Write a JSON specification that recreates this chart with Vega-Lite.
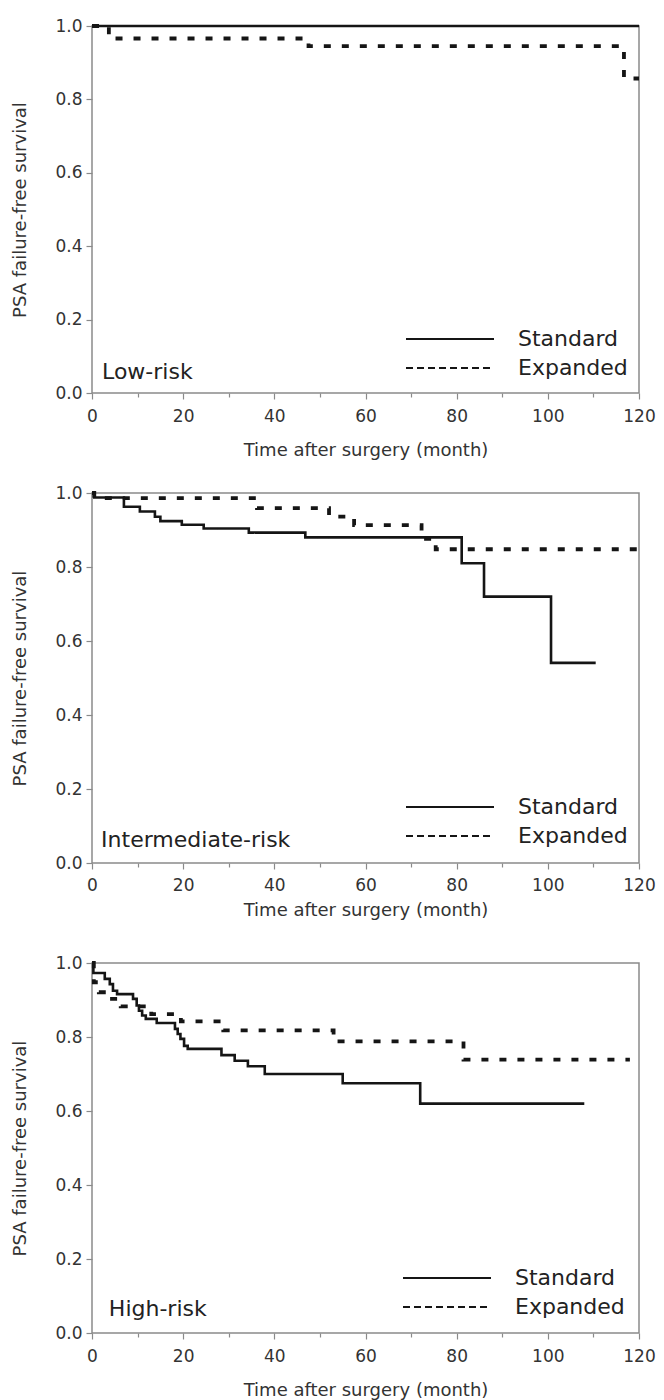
{
  "$schema": "https://vega.github.io/schema/vega-lite/v6.json",
  "padding": {"left": 11, "top": 16, "right": 0, "bottom": 0},
  "background": "white",
  "datasets": {
    "km": [
      {"panel": "Low-risk", "group": "Standard", "time": 0, "surv": 1},
      {"panel": "Low-risk", "group": "Standard", "time": 120, "surv": 1},
      {"panel": "Low-risk", "group": "Expanded", "time": 0, "surv": 1},
      {"panel": "Low-risk", "group": "Expanded", "time": 3.7, "surv": 0.966},
      {"panel": "Low-risk", "group": "Expanded", "time": 47.5, "surv": 0.945},
      {"panel": "Low-risk", "group": "Expanded", "time": 116.7, "surv": 0.857},
      {"panel": "Low-risk", "group": "Expanded", "time": 120, "surv": 0.857},

      {"panel": "Intermediate-risk", "group": "Standard", "time": 0, "surv": 1},
      {"panel": "Intermediate-risk", "group": "Standard", "time": 0.5, "surv": 0.988},
      {"panel": "Intermediate-risk", "group": "Standard", "time": 7, "surv": 0.963},
      {"panel": "Intermediate-risk", "group": "Standard", "time": 10.5, "surv": 0.95},
      {"panel": "Intermediate-risk", "group": "Standard", "time": 13.8, "surv": 0.936},
      {"panel": "Intermediate-risk", "group": "Standard", "time": 15, "surv": 0.924},
      {"panel": "Intermediate-risk", "group": "Standard", "time": 19.7, "surv": 0.914},
      {"panel": "Intermediate-risk", "group": "Standard", "time": 24.5, "surv": 0.904},
      {"panel": "Intermediate-risk", "group": "Standard", "time": 34.4, "surv": 0.893},
      {"panel": "Intermediate-risk", "group": "Standard", "time": 46.8, "surv": 0.88},
      {"panel": "Intermediate-risk", "group": "Standard", "time": 81.1, "surv": 0.81},
      {"panel": "Intermediate-risk", "group": "Standard", "time": 86, "surv": 0.72},
      {"panel": "Intermediate-risk", "group": "Standard", "time": 100.7, "surv": 0.541},
      {"panel": "Intermediate-risk", "group": "Standard", "time": 110.5, "surv": 0.541},
      {"panel": "Intermediate-risk", "group": "Expanded", "time": 0, "surv": 1},
      {"panel": "Intermediate-risk", "group": "Expanded", "time": 0.5, "surv": 0.986},
      {"panel": "Intermediate-risk", "group": "Expanded", "time": 36.2, "surv": 0.959},
      {"panel": "Intermediate-risk", "group": "Expanded", "time": 52, "surv": 0.936},
      {"panel": "Intermediate-risk", "group": "Expanded", "time": 57.5, "surv": 0.913},
      {"panel": "Intermediate-risk", "group": "Expanded", "time": 72.3, "surv": 0.876},
      {"panel": "Intermediate-risk", "group": "Expanded", "time": 75.4, "surv": 0.848},
      {"panel": "Intermediate-risk", "group": "Expanded", "time": 120, "surv": 0.848},

      {"panel": "High-risk", "group": "Standard", "time": 0, "surv": 1},
      {"panel": "High-risk", "group": "Standard", "time": 0.3, "surv": 0.973},
      {"panel": "High-risk", "group": "Standard", "time": 2.8, "surv": 0.957},
      {"panel": "High-risk", "group": "Standard", "time": 3.9, "surv": 0.943},
      {"panel": "High-risk", "group": "Standard", "time": 4.6, "surv": 0.925},
      {"panel": "High-risk", "group": "Standard", "time": 5.5, "surv": 0.916},
      {"panel": "High-risk", "group": "Standard", "time": 9, "surv": 0.903},
      {"panel": "High-risk", "group": "Standard", "time": 9.8, "surv": 0.885},
      {"panel": "High-risk", "group": "Standard", "time": 10.3, "surv": 0.871},
      {"panel": "High-risk", "group": "Standard", "time": 11, "surv": 0.858},
      {"panel": "High-risk", "group": "Standard", "time": 11.8, "surv": 0.849},
      {"panel": "High-risk", "group": "Standard", "time": 14.2, "surv": 0.838},
      {"panel": "High-risk", "group": "Standard", "time": 18.2, "surv": 0.822},
      {"panel": "High-risk", "group": "Standard", "time": 18.8, "surv": 0.808},
      {"panel": "High-risk", "group": "Standard", "time": 19.4, "surv": 0.795},
      {"panel": "High-risk", "group": "Standard", "time": 20.2, "surv": 0.776},
      {"panel": "High-risk", "group": "Standard", "time": 21, "surv": 0.768},
      {"panel": "High-risk", "group": "Standard", "time": 28.4, "surv": 0.751},
      {"panel": "High-risk", "group": "Standard", "time": 31.3, "surv": 0.736},
      {"panel": "High-risk", "group": "Standard", "time": 34.2, "surv": 0.721},
      {"panel": "High-risk", "group": "Standard", "time": 37.9, "surv": 0.7},
      {"panel": "High-risk", "group": "Standard", "time": 55, "surv": 0.675},
      {"panel": "High-risk", "group": "Standard", "time": 72, "surv": 0.62},
      {"panel": "High-risk", "group": "Standard", "time": 108, "surv": 0.62},
      {"panel": "High-risk", "group": "Expanded", "time": 0, "surv": 1},
      {"panel": "High-risk", "group": "Expanded", "time": 0.4, "surv": 0.948},
      {"panel": "High-risk", "group": "Expanded", "time": 1.5, "surv": 0.921},
      {"panel": "High-risk", "group": "Expanded", "time": 3.8, "surv": 0.903},
      {"panel": "High-risk", "group": "Expanded", "time": 6.3, "surv": 0.883},
      {"panel": "High-risk", "group": "Expanded", "time": 13, "surv": 0.862},
      {"panel": "High-risk", "group": "Expanded", "time": 19.5, "surv": 0.842},
      {"panel": "High-risk", "group": "Expanded", "time": 28.8, "surv": 0.818},
      {"panel": "High-risk", "group": "Expanded", "time": 53, "surv": 0.788},
      {"panel": "High-risk", "group": "Expanded", "time": 81.5, "surv": 0.739},
      {"panel": "High-risk", "group": "Expanded", "time": 118, "surv": 0.739}
    ],
    "panels": [
      {"panel": "Low-risk"},
      {"panel": "Intermediate-risk"},
      {"panel": "High-risk"}
    ]
  },
  "config": {
    "font": "DejaVu Sans",
    "view": {"stroke": "#8a8a8a", "strokeWidth": 1.5},
    "axis": {
      "domain": false,
      "grid": false,
      "tickColor": "#8a8a8a",
      "tickWidth": 1.2,
      "labelFont": "DejaVu Sans",
      "labelFontSize": 17,
      "labelColor": "#333333",
      "titleFont": "DejaVu Sans",
      "titleFontSize": 18,
      "titleFontWeight": "normal",
      "titleColor": "#333333"
    },
    "legend": {
      "orient": "none",
      "title": null,
      "symbolType": "M-4,0H4",
      "symbolSize": 484,
      "symbolStrokeWidth": 2,
      "symbolStrokeColor": "#151515",
      "symbolFillColor": "transparent",
      "labelFont": "DejaVu Sans",
      "labelFontSize": 22,
      "labelColor": "#222222",
      "labelOffset": 56,
      "rowPadding": 6,
      "padding": 0
    }
  },
  "bounds": "flush",
  "spacing": 100,
  "resolve": {
    "scale": {"strokeDash": "independent", "strokeWidth": "independent"},
    "legend": {"strokeDash": "independent"}
  },
  "vconcat": [
    {
      "width": 547,
      "height": 367,
      "resolve": {"scale": {"strokeDash": "independent"}, "legend": {"strokeDash": "independent"}},
      "layer": [
        {
          "data": {"name": "km"},
          "transform": [{"filter": "datum.panel === 'Low-risk'"}],
          "mark": {"type": "line", "interpolate": "step-after", "color": "#151515"},
          "encoding": {
            "x": {"field": "time", "type": "quantitative", "scale": {"domain": [0, 120], "nice": false},
              "axis": {"title": "Time after surgery (month)", "values": [0,10,20,30,40,50,60,70,80,90,100,110,120],
                "labelExpr": "datum.value % 20 === 0 ? datum.label : ''",
                "tickSize": {"condition": {"test": "datum.value % 20 === 0", "value": 6}, "value": 4},
                "labelPadding": 9, "titlePadding": 17, "labelFlush": false}},
            "y": {"field": "surv", "type": "quantitative", "scale": {"domain": [0, 1], "nice": false},
              "axis": {"title": "PSA failure-free survival", "values": [0,0.1,0.2,0.3,0.4,0.5,0.6,0.7,0.8,0.9,1],
                "labelExpr": "round(datum.value*10) % 2 === 0 ? format(datum.value, '.1f') : ''",
                "tickSize": {"condition": {"test": "round(datum.value*10) % 2 === 0", "value": 6}, "value": 3},
                "labelPadding": 4, "titlePadding": 25, "labelFlush": false}},
            "strokeDash": {"field": "group", "type": "nominal",
              "scale": {"domain": ["Standard", "Expanded"], "range": [[1, 0], [7, 11]]}, "legend": null},
            "strokeWidth": {"field": "group", "type": "nominal",
              "scale": {"domain": ["Standard", "Expanded"], "range": [2.6, 3.8]}, "legend": null}
          }
        },
        {
          "data": {"name": "km"},
          "transform": [{"filter": "datum.panel === 'Low-risk' && datum.time === 0"}],
          "mark": {"type": "line", "color": "#151515", "strokeWidth": 2},
          "encoding": {
            "x": {"field": "time", "type": "quantitative"},
            "y": {"field": "surv", "type": "quantitative"},
            "strokeDash": {"field": "group", "type": "nominal",
              "scale": {"domain": ["Standard", "Expanded"], "range": [[1, 0], [7, 4]]},
              "legend": {"orient": "none", "legendX": 346, "legendY": 301}}
          }
        },
        {
          "data": {"name": "panels"},
          "transform": [{"filter": "datum.panel === 'Low-risk'"}],
          "mark": {"type": "text", "align": "left", "baseline": "alphabetic", "fontSize": 22, "color": "#222222", "font": "DejaVu Sans"},
          "encoding": {"x": {"datum": 2.2}, "y": {"datum": 0.038}, "text": {"field": "panel"}}
        }
      ]
    },
    {
      "width": 547,
      "height": 370,
      "resolve": {"scale": {"strokeDash": "independent"}, "legend": {"strokeDash": "independent"}},
      "layer": [
        {
          "data": {"name": "km"},
          "transform": [{"filter": "datum.panel === 'Intermediate-risk'"}],
          "mark": {"type": "line", "interpolate": "step-after", "color": "#151515"},
          "encoding": {
            "x": {"field": "time", "type": "quantitative", "scale": {"domain": [0, 120], "nice": false},
              "axis": {"title": "Time after surgery (month)", "values": [0,10,20,30,40,50,60,70,80,90,100,110,120],
                "labelExpr": "datum.value % 20 === 0 ? datum.label : ''",
                "tickSize": {"condition": {"test": "datum.value % 20 === 0", "value": 6}, "value": 4},
                "labelPadding": 8, "titlePadding": 8, "labelFlush": false}},
            "y": {"field": "surv", "type": "quantitative", "scale": {"domain": [0, 1], "nice": false},
              "axis": {"title": "PSA failure-free survival", "values": [0,0.1,0.2,0.3,0.4,0.5,0.6,0.7,0.8,0.9,1],
                "labelExpr": "round(datum.value*10) % 2 === 0 ? format(datum.value, '.1f') : ''",
                "tickSize": {"condition": {"test": "round(datum.value*10) % 2 === 0", "value": 6}, "value": 3},
                "labelPadding": 4, "titlePadding": 25, "labelFlush": false}},
            "strokeDash": {"field": "group", "type": "nominal",
              "scale": {"domain": ["Standard", "Expanded"], "range": [[1, 0], [7, 11]]}, "legend": null},
            "strokeWidth": {"field": "group", "type": "nominal",
              "scale": {"domain": ["Standard", "Expanded"], "range": [2.6, 3.8]}, "legend": null}
          }
        },
        {
          "data": {"name": "km"},
          "transform": [{"filter": "datum.panel === 'Intermediate-risk' && datum.time === 0"}],
          "mark": {"type": "line", "color": "#151515", "strokeWidth": 2},
          "encoding": {
            "x": {"field": "time", "type": "quantitative"},
            "y": {"field": "surv", "type": "quantitative"},
            "strokeDash": {"field": "group", "type": "nominal",
              "scale": {"domain": ["Standard", "Expanded"], "range": [[1, 0], [7, 4]]},
              "legend": {"orient": "none", "legendX": 346, "legendY": 302}}
          }
        },
        {
          "data": {"name": "panels"},
          "transform": [{"filter": "datum.panel === 'Intermediate-risk'"}],
          "mark": {"type": "text", "align": "left", "baseline": "alphabetic", "fontSize": 22, "color": "#222222", "font": "DejaVu Sans"},
          "encoding": {"x": {"datum": 2.0}, "y": {"datum": 0.043}, "text": {"field": "panel"}}
        }
      ]
    },
    {
      "width": 547,
      "height": 370,
      "resolve": {"scale": {"strokeDash": "independent"}, "legend": {"strokeDash": "independent"}},
      "layer": [
        {
          "data": {"name": "km"},
          "transform": [{"filter": "datum.panel === 'High-risk'"}],
          "mark": {"type": "line", "interpolate": "step-after", "color": "#151515"},
          "encoding": {
            "x": {"field": "time", "type": "quantitative", "scale": {"domain": [0, 120], "nice": false},
              "axis": {"title": "Time after surgery (month)", "values": [0,10,20,30,40,50,60,70,80,90,100,110,120],
                "labelExpr": "datum.value % 20 === 0 ? datum.label : ''",
                "tickSize": {"condition": {"test": "datum.value % 20 === 0", "value": 6}, "value": 4},
                "labelPadding": 9, "titlePadding": 17, "labelFlush": false}},
            "y": {"field": "surv", "type": "quantitative", "scale": {"domain": [0, 1], "nice": false},
              "axis": {"title": "PSA failure-free survival", "values": [0,0.1,0.2,0.3,0.4,0.5,0.6,0.7,0.8,0.9,1],
                "labelExpr": "round(datum.value*10) % 2 === 0 ? format(datum.value, '.1f') : ''",
                "tickSize": {"condition": {"test": "round(datum.value*10) % 2 === 0", "value": 6}, "value": 3},
                "labelPadding": 4, "titlePadding": 25, "labelFlush": false}},
            "strokeDash": {"field": "group", "type": "nominal",
              "scale": {"domain": ["Standard", "Expanded"], "range": [[1, 0], [7, 11]]}, "legend": null},
            "strokeWidth": {"field": "group", "type": "nominal",
              "scale": {"domain": ["Standard", "Expanded"], "range": [2.6, 3.8]}, "legend": null}
          }
        },
        {
          "data": {"name": "km"},
          "transform": [{"filter": "datum.panel === 'High-risk' && datum.time === 0"}],
          "mark": {"type": "line", "color": "#151515", "strokeWidth": 2},
          "encoding": {
            "x": {"field": "time", "type": "quantitative"},
            "y": {"field": "surv", "type": "quantitative"},
            "strokeDash": {"field": "group", "type": "nominal",
              "scale": {"domain": ["Standard", "Expanded"], "range": [[1, 0], [7, 4]]},
              "legend": {"orient": "none", "legendX": 343, "legendY": 303}}
          }
        },
        {
          "data": {"name": "panels"},
          "transform": [{"filter": "datum.panel === 'High-risk'"}],
          "mark": {"type": "text", "align": "left", "baseline": "alphabetic", "fontSize": 22, "color": "#222222", "font": "DejaVu Sans"},
          "encoding": {"x": {"datum": 3.7}, "y": {"datum": 0.046}, "text": {"field": "panel"}}
        }
      ]
    }
  ]
}
